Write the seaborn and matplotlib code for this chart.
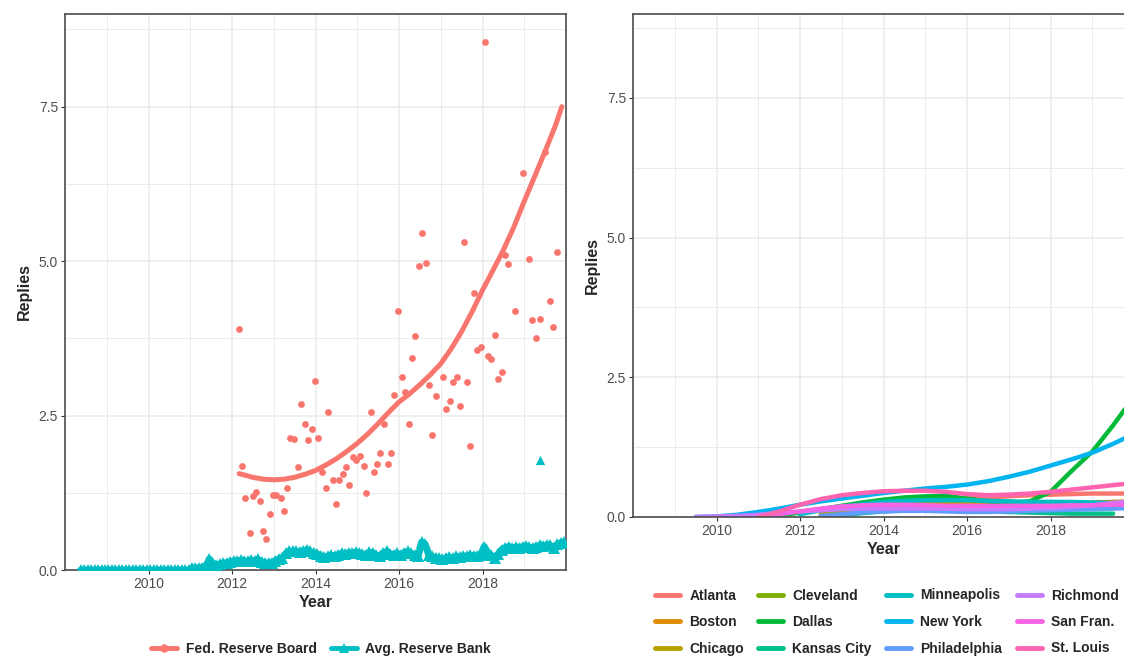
import matplotlib
matplotlib.use("Agg")
import numpy as np
import pandas as pd
import seaborn as sns
import matplotlib.pyplot as plt
from matplotlib.lines import Line2D
from matplotlib.ticker import FormatStrFormatter

# ---------------- data ----------------
# Fed. Reserve Board monthly observations (left panel scatter)
fed_x = [2012.17, 2012.25, 2012.32, 2012.43, 2012.51, 2012.58, 2012.67, 2012.74, 2012.82, 2012.92,
         2012.99, 2013.05, 2013.17, 2013.25, 2013.32, 2013.40, 2013.48, 2013.57, 2013.66, 2013.74,
         2013.82, 2013.91, 2013.99, 2014.06, 2014.15, 2014.25, 2014.31, 2014.41, 2014.49, 2014.56,
         2014.65, 2014.73, 2014.81, 2014.90, 2014.97, 2015.06, 2015.15, 2015.22, 2015.32, 2015.39,
         2015.48, 2015.55, 2015.64, 2015.73, 2015.81, 2015.89, 2015.97, 2016.07, 2016.15, 2016.23,
         2016.31, 2016.39, 2016.47, 2016.56, 2016.64, 2016.72, 2016.80, 2016.89, 2017.05, 2017.13,
         2017.21, 2017.30, 2017.39, 2017.46, 2017.56, 2017.63, 2017.71, 2017.80, 2017.88, 2017.96,
         2018.07, 2018.13, 2018.20, 2018.29, 2018.38, 2018.46, 2018.55, 2018.62, 2018.79, 2018.98,
         2019.12, 2019.19, 2019.28, 2019.37, 2019.49, 2019.62, 2019.69, 2019.79]
fed_y = [3.90, 1.69, 1.17, 0.60, 1.20, 1.27, 1.12, 0.63, 0.50, 0.90,
         1.22, 1.22, 1.17, 0.95, 1.32, 2.14, 2.12, 1.67, 2.68, 2.36,
         2.11, 2.29, 3.06, 2.14, 1.58, 1.32, 2.56, 1.45, 1.07, 1.45,
         1.56, 1.67, 1.37, 1.83, 1.78, 1.84, 1.69, 1.25, 2.56, 1.59,
         1.72, 1.89, 2.36, 1.72, 1.89, 2.83, 4.20, 3.13, 2.88, 2.36,
         3.43, 3.78, 4.92, 5.46, 4.97, 3.00, 2.19, 2.81, 3.13, 2.61,
         2.73, 3.05, 3.13, 2.66, 5.31, 3.05, 2.01, 4.49, 3.56, 3.61,
         8.55, 3.46, 3.41, 3.80, 3.09, 3.21, 5.10, 4.95, 4.20, 6.42,
         5.04, 4.05, 3.75, 4.07, 6.77, 4.35, 3.93, 5.14]

# Fed. Reserve Board smoothed trend
trend_x = [2012.17, 2012.5, 2012.75, 2013.0, 2013.25, 2013.5, 2013.75, 2014.0, 2014.25, 2014.5,
           2014.75, 2015.0, 2015.25, 2015.5, 2015.75, 2016.0, 2016.25, 2016.5, 2016.75, 2017.0,
           2017.25, 2017.5, 2017.75, 2018.0, 2018.25, 2018.5, 2018.75, 2019.0, 2019.25, 2019.5,
           2019.75, 2019.9]
trend_y = [1.56, 1.50, 1.47, 1.46, 1.47, 1.50, 1.55, 1.61, 1.70, 1.80,
           1.92, 2.05, 2.20, 2.37, 2.55, 2.72, 2.85, 3.00, 3.16, 3.34,
           3.58, 3.86, 4.18, 4.53, 4.85, 5.18, 5.55, 5.97, 6.37, 6.78,
           7.20, 7.50]

# Avg. Reserve Bank, monthly, starting May 2008
bank_start = 2008 + 4.5 / 12
bank_2008 = [0.0] * 8
bank_2009 = [0.0] * 12
bank_2010 = [0.0] * 12
bank_2011 = [0.03, 0.03, 0.04, 0.04, 0.06, 0.18, 0.10, 0.08, 0.10, 0.11, 0.12, 0.13]
bank_2012 = [0.15, 0.14, 0.16, 0.15, 0.14, 0.16, 0.15, 0.17, 0.13, 0.12, 0.11, 0.12]
bank_2013 = [0.15, 0.18, 0.20, 0.27, 0.30, 0.31, 0.30, 0.29, 0.31, 0.33, 0.30, 0.28]
bank_2014 = [0.26, 0.23, 0.21, 0.22, 0.24, 0.22, 0.25, 0.27, 0.26, 0.28, 0.27, 0.29]
bank_2015 = [0.28, 0.26, 0.25, 0.29, 0.27, 0.24, 0.22, 0.28, 0.30, 0.26, 0.25, 0.27]
bank_2016 = [0.24, 0.28, 0.30, 0.27, 0.25, 0.22, 0.45, 0.42, 0.25, 0.22, 0.20, 0.19]
bank_2017 = [0.17, 0.20, 0.21, 0.19, 0.22, 0.21, 0.23, 0.22, 0.24, 0.23, 0.22, 0.25]
bank_2018 = [0.38, 0.28, 0.24, 0.20, 0.26, 0.33, 0.36, 0.38, 0.35, 0.37, 0.36, 0.38]
bank_2019 = [0.39, 0.37, 0.36, 0.38, 0.40, 0.39, 0.41, 0.40, 0.35, 0.42, 0.44, 0.45]
bank_outlier_x = [2019.37]
bank_outlier_y = [1.78]

# Right panel: individual reserve banks (smoothed), half-year grid
grid_years = [2009.5, 2010.0, 2010.5, 2011.0, 2011.5, 2012.0, 2012.5, 2013.0, 2013.5, 2014.0, 2014.5,
              2015.0, 2015.5, 2016.0, 2016.5, 2017.0, 2017.5, 2018.0, 2018.5, 2019.0, 2019.5, 2019.9]
nan = np.nan
atlanta = [nan] * 6 + [0.05, 0.12, 0.18, 0.23, 0.27, 0.30, 0.32, 0.33, 0.35, 0.37, 0.39, 0.40, 0.41, 0.42, 0.42, 0.42]
boston = [nan] * 6 + [0.04, 0.10, 0.16, 0.21, 0.25, 0.26, 0.25, 0.24, 0.24, 0.25, 0.26, 0.26, 0.26, 0.26, 0.27, 0.28]
chicago = [nan] * 6 + [0.03, 0.08, 0.12, 0.16, 0.19, 0.20, 0.20, 0.19, 0.19, 0.20, 0.21, 0.22, 0.22, 0.23, 0.23, 0.24]
cleveland = [nan] * 6 + [0.02, 0.06, 0.10, 0.13, 0.15, 0.16, 0.16, 0.15, 0.14, 0.14, 0.15, 0.15, 0.16, 0.16, 0.17, 0.17]
dallas = [nan] * 4 + [0.02, 0.08, 0.14, 0.20, 0.26, 0.31, 0.35, 0.37, 0.38, 0.33, 0.28, 0.25, 0.28, 0.45, 0.82, 1.17, 1.64, 2.05]
kansas_city = [nan] * 7 + [0.03, 0.07, 0.10, 0.12, 0.13, 0.12, 0.11, 0.10, 0.09, 0.08, 0.07, 0.06, 0.06, 0.06]
minneapolis = [nan] * 5 + [0.05, 0.12, 0.18, 0.23, 0.27, 0.29, 0.30, 0.30, 0.30, 0.29, 0.28, 0.27, 0.27, 0.27, 0.26, 0.25, 0.25]
new_york = [0.0, 0.01, 0.04, 0.09, 0.15, 0.22, 0.28, 0.33, 0.38, 0.43, 0.47, 0.51, 0.54, 0.58, 0.64, 0.72, 0.81, 0.92, 1.03, 1.15, 1.31, 1.45]
philadelphia = [nan] * 6 + [0.02, 0.05, 0.08, 0.10, 0.11, 0.11, 0.10, 0.09, 0.09, 0.10, 0.11, 0.12, 0.13, 0.14, 0.15, 0.16]
richmond = [0.0, 0.01, 0.02, 0.04, 0.07, 0.10, 0.12, 0.14, 0.15, 0.15, 0.15, 0.15, 0.15, 0.14, 0.14, 0.14, 0.15, 0.16, 0.18, 0.21, 0.25, 0.28]
san_fran = [nan] * 3 + [0.0, 0.05, 0.10, 0.15, 0.19, 0.21, 0.22, 0.22, 0.21, 0.20, 0.20, 0.20, 0.20, 0.20, 0.20, 0.21, 0.21, 0.22, 0.22]
st_louis = [nan] * 3 + [0.0, 0.10, 0.22, 0.32, 0.39, 0.43, 0.46, 0.47, 0.47, 0.45, 0.41, 0.39, 0.40, 0.42, 0.45, 0.49, 0.53, 0.57, 0.60]

bank_names = ["Atlanta", "Boston", "Chicago", "Cleveland", "Dallas", "Kansas City",
              "Minneapolis", "New York", "Philadelphia", "Richmond", "San Fran.", "St. Louis"]
bank_series = [atlanta, boston, chicago, cleveland, dallas, kansas_city,
               minneapolis, new_york, philadelphia, richmond, san_fran, st_louis]
bank_colors = ["#F8766D", "#DE8C00", "#B79F00", "#7CAE00", "#00BA38", "#00C08B",
               "#00BFC4", "#00B4F0", "#619CFF", "#C77CFF", "#F564E3", "#FF64B0"]

RED = "#F8766D"
TEAL = "#00BFC4"

# ---------------- figure ----------------
sns.set_style("white")
plt.rcParams["font.family"] = ["Liberation Sans", "DejaVu Sans"]

W, H = 1124, 656
fig = plt.figure(figsize=(W / 100, H / 100), dpi=100)
axL = fig.add_axes([65 / W, (H - 570) / H, 501 / W, 556 / H])
axR = fig.add_axes([633 / W, (H - 517) / H, 501 / W, 503 / H])


def style(ax):
    ax.set_xlim(2008.0, 2020.0)
    ax.set_ylim(0, 9.0)
    ax.set_xticks([2010, 2012, 2014, 2016, 2018])
    ax.set_xticks([2009, 2011, 2013, 2015, 2017, 2019], minor=True)
    ax.set_yticks([0, 2.5, 5.0, 7.5])
    ax.set_yticks([1.25, 3.75, 6.25, 8.75], minor=True)
    ax.yaxis.set_major_formatter(FormatStrFormatter("%.1f"))
    ax.xaxis.set_major_formatter(FormatStrFormatter("%d"))
    ax.grid(which="major", color="#EBEBEB", lw=1.1)
    ax.grid(which="minor", color="#EBEBEB", lw=0.7)
    ax.set_axisbelow(True)
    for s in ax.spines.values():
        s.set_color("#4D4D4D")
        s.set_linewidth(1.2)
    ax.tick_params(which="major", length=3, width=0.8, color="#333333",
                   labelsize=10, labelcolor="#4D4D4D", pad=2,
                   bottom=True, left=True)
    ax.tick_params(which="minor", length=0)
    ax.set_xlabel("Year", fontsize=11.5, fontweight="bold", labelpad=3)
    ax.set_ylabel("Replies", fontsize=11.5, fontweight="bold", labelpad=5)


# left panel
sns.scatterplot(x=fed_x, y=fed_y, color=RED, s=24, linewidth=0, ax=axL, zorder=3)
sns.lineplot(x=trend_x, y=trend_y, color=RED, lw=3.6, ax=axL, zorder=3)

bank_vals = (bank_2008 + bank_2009 + bank_2010 + bank_2011 + bank_2012 + bank_2013 +
             bank_2014 + bank_2015 + bank_2016 + bank_2017 + bank_2018 + bank_2019)
bank_x = bank_start + np.arange(len(bank_vals)) / 12.0
sns.lineplot(x=bank_x, y=bank_vals, color=TEAL, lw=5, marker="^", markersize=8,
             markeredgewidth=0, ax=axL, zorder=4)
sns.scatterplot(x=bank_outlier_x, y=bank_outlier_y, color=TEAL, marker="^", s=45,
                linewidth=0, ax=axL, zorder=4)
style(axL)

# right panel
rows = []
for name, vals in zip(bank_names, bank_series):
    for yr, v in zip(grid_years, vals):
        rows.append((name, yr, v))
df = pd.DataFrame(rows, columns=["Bank", "Year", "Replies"]).dropna()
sns.lineplot(data=df, x="Year", y="Replies", hue="Bank", hue_order=bank_names,
             palette=dict(zip(bank_names, bank_colors)), lw=3.2, ax=axR, legend=False)
style(axR)

# legends
hL = [Line2D([], [], color=RED, lw=3.5, marker="o", markersize=6, markeredgewidth=0),
      Line2D([], [], color=TEAL, lw=3.5, marker="^", markersize=7, markeredgewidth=0)]
fig.legend(hL, ["Fed. Reserve Board", "Avg. Reserve Bank"], ncol=2, loc="center",
           bbox_to_anchor=(321 / W, (H - 649) / H), frameon=False,
           prop={"size": 10, "weight": "bold"}, handlelength=1.9, handletextpad=0.6,
           columnspacing=1.0)

hR = [Line2D([], [], color=c, lw=3.5) for c in bank_colors]
fig.legend(hR, bank_names, ncol=4, loc="center",
           bbox_to_anchor=(887 / W, (H - 622) / H), frameon=False,
           prop={"size": 10, "weight": "bold"}, handlelength=1.8, handletextpad=0.65,
           columnspacing=1.05, labelspacing=0.9)

fig.savefig("out.png", dpi=100)
